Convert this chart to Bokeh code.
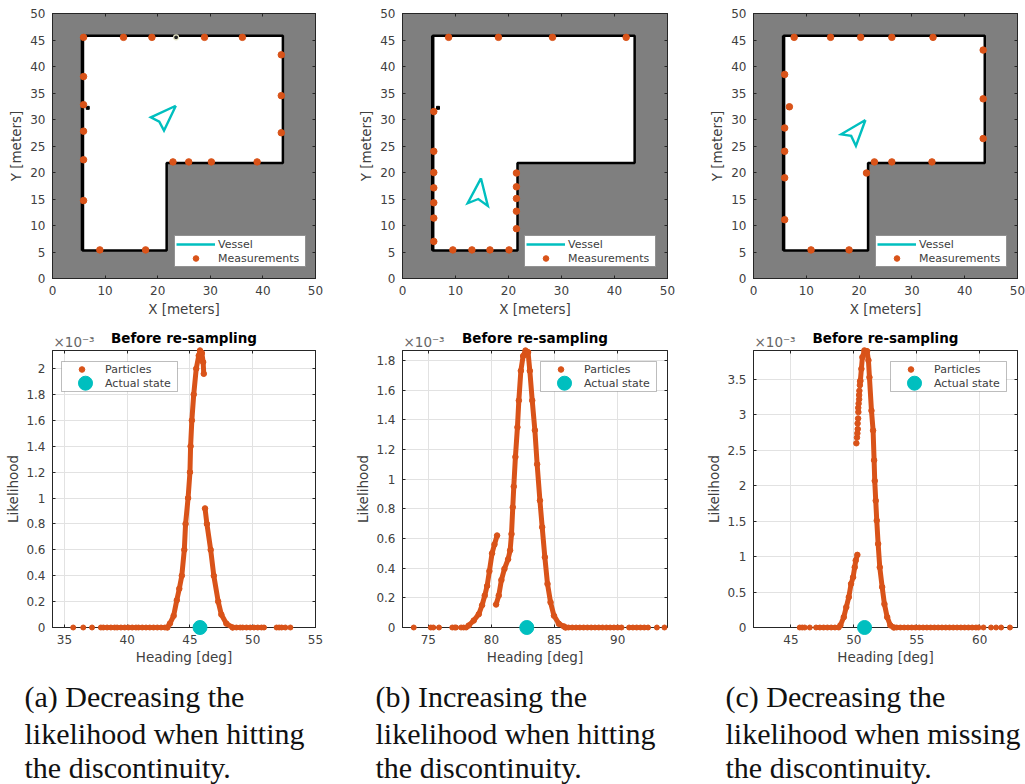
from bokeh.plotting import figure
from bokeh.layouts import column, row
from bokeh.models import LinearAxis, FixedTicker, Legend, LegendItem, Label, BoxAnnotation
from bokeh.embed import file_html
from bokeh.resources import INLINE

# ---------- data: map ----------
room_x = [5.7, 43.8, 43.8, 21.7, 21.7, 5.7, 5.7]
room_y = [45.8, 45.8, 21.8, 21.8, 5.3, 5.3, 45.8]
map_xticks = [0, 10, 20, 30, 40, 50]
map_yticks = [0, 5, 10, 15, 20, 25, 30, 35, 40, 45, 50]

meas_a_x = [5.9, 13.5, 18.9, 28.9, 36.1, 43.5, 43.5, 43.5, 5.9, 5.9, 5.9, 5.9, 5.9, 22.9, 25.9, 30.2, 38.9, 9.0, 17.7]
meas_a_y = [45.5, 45.5, 45.5, 45.5, 45.5, 42.2, 34.5, 27.5, 38.1, 32.8, 27.8, 22.4, 14.7, 22.0, 22.0, 22.0, 22.0, 5.4, 5.4]
meas_b_x = [8.7, 18.1, 28.3, 42.2, 5.9, 5.9, 5.9, 5.9, 5.9, 5.9, 5.9, 21.5, 21.5, 21.5, 21.5, 21.5, 9.5, 13.1, 16.5, 20.1]
meas_b_y = [45.5, 45.5, 45.5, 45.5, 31.5, 24.0, 20.0, 17.1, 14.3, 11.4, 7.0, 19.9, 17.3, 15.1, 12.7, 9.4, 5.4, 5.4, 5.4, 5.4]
meas_c_x = [7.7, 14.6, 20.3, 26.2, 34.0, 43.5, 43.5, 43.5, 5.9, 5.9, 5.9, 5.9, 5.9, 6.8, 22.9, 26.2, 33.8, 21.4, 10.9, 18.1]
meas_c_y = [45.5, 45.5, 45.5, 45.5, 45.5, 43.1, 33.9, 26.4, 38.5, 28.4, 24.0, 19.0, 11.1, 32.4, 22.0, 22.0, 22.0, 19.9, 5.4, 5.4]

vessel_a_x = [23.45, 18.7, 20.3, 21.2, 23.45]
vessel_a_y = [32.6, 30.4, 29.6, 27.9, 32.6]
vessel_b_x = [14.8, 12.3, 14.3, 16.1, 14.8]
vessel_b_y = [18.9, 14.2, 15.0, 13.7, 18.9]
vessel_c_x = [21.2, 16.6, 18.5, 19.4, 21.2]
vessel_c_y = [29.9, 27.2, 26.9, 25.0, 29.9]

hit_a_x, hit_a_y = [23.5], [45.5]
corner_x, corner_y = [6.7], [32.2]

# ---------- data: likelihood (units of 1e-3) ----------
a_main_x = [43.2, 43.4, 43.7, 43.95, 44.15, 44.35, 44.55, 44.65, 44.85, 45.0, 45.05, 45.15, 45.3, 45.5, 45.7, 45.8, 45.95, 46.05, 46.1]
a_main_y = [0.0, 0.03, 0.09, 0.21, 0.3, 0.4, 0.6, 0.8, 1.0, 1.2, 1.4, 1.6, 1.8, 2.0, 2.1, 2.14, 2.12, 2.05, 1.96]
a_right_x = [46.2, 46.35, 46.65, 46.9, 47.25, 47.5, 47.9, 48.4]
a_right_y = [0.92, 0.8, 0.6, 0.4, 0.2, 0.1, 0.03, 0.0]
a_tail_x = [35.7, 36.5, 37.2, 37.9, 38.1, 38.4, 38.7, 39.0, 39.2, 39.5, 39.8, 40.1, 40.4, 40.7, 40.9, 41.2, 41.5, 41.8, 42.1, 42.4, 42.7, 43.0,
            48.7, 49.0, 49.2, 49.5, 49.8, 50.1, 50.4, 50.7, 50.9, 51.9, 52.1, 52.3, 52.6, 53.0]
a_zero_x = [37.9, 43.2, 48.4, 51.0, 51.9, 52.6]
a_state = 45.8
a_xticks = [35, 40, 45, 50, 55]
a_yticks = [0, 0.2, 0.4, 0.6, 0.8, 1, 1.2, 1.4, 1.6, 1.8, 2]
a_ylabels = ["0", "0.2", "0.4", "0.6", "0.8", "1", "1.2", "1.4", "1.6", "1.8", "2"]

b_left_x = [78.2, 78.6, 79.0, 79.26, 79.47, 79.66, 79.84, 80.05, 80.24, 80.45]
b_left_y = [0.013, 0.047, 0.09, 0.15, 0.215, 0.28, 0.38, 0.5, 0.56, 0.62]
b_main_x = [80.37, 80.58, 80.79, 81.03, 81.32, 81.48, 81.59, 81.69, 81.77, 81.9, 82.06, 82.17, 82.33, 82.51, 82.7, 82.9, 83.04, 83.23, 83.44, 83.62, 83.84, 84.02, 84.23, 84.44, 84.68, 84.95, 85.34, 85.74, 85.87]
b_main_y = [0.155, 0.215, 0.32, 0.395, 0.46, 0.52, 0.63, 0.81, 0.95, 1.15, 1.35, 1.53, 1.73, 1.83, 1.867, 1.856, 1.73, 1.53, 1.33, 1.10, 0.856, 0.676, 0.474, 0.294, 0.17, 0.08, 0.025, 0.007, 0.0]
b_tail_x = [73.85, 75.2, 75.4, 75.85, 76.9, 77.1, 77.2, 77.6, 77.8, 78.0,
            86.1, 86.4, 86.7, 87.0, 87.3, 87.6, 87.9, 88.2, 88.5, 88.8, 89.1, 89.4, 89.7, 90.0, 90.3, 90.9, 91.2, 91.5, 91.8, 92.1, 92.4, 93.1, 93.7]
b_zero_x = [85.9, 88.8, 89.0, 90.3, 90.9, 92.5]
b_state = 82.8
b_xticks = [75, 80, 85, 90]
b_yticks = [0, 0.2, 0.4, 0.6, 0.8, 1, 1.2, 1.4, 1.6, 1.8]
b_ylabels = ["0", "0.2", "0.4", "0.6", "0.8", "1", "1.2", "1.4", "1.6", "1.8"]

c_low_x = [48.93, 49.2, 49.4, 49.6, 49.78, 49.94, 50.07, 50.15, 50.28]
c_low_y = [0.03, 0.146, 0.287, 0.428, 0.616, 0.71, 0.85, 0.945, 1.025]
c_dots_x = [50.2, 50.25, 50.28, 50.31, 50.3, 50.34, 50.36, 50.35, 50.38, 50.42, 50.42, 50.44, 50.48, 50.5]
c_dots_y = [2.6, 2.68, 2.74, 2.8, 2.88, 2.95, 3.04, 3.1, 3.16, 3.22, 3.28, 3.34, 3.42, 3.47]
c_main_x = [50.52, 50.6, 50.68, 50.84, 51.05, 51.16, 51.24, 51.4, 51.53, 51.61, 51.66, 51.74, 51.82, 51.93, 52.06, 52.25, 52.43, 52.65, 52.9, 53.18]
c_main_y = [3.485, 3.65, 3.815, 3.91, 3.9, 3.77, 3.53, 3.06, 2.78, 2.36, 2.07, 1.79, 1.51, 1.18, 0.85, 0.57, 0.33, 0.146, 0.03, 0.0]
c_tail_x = [45.7, 45.9, 46.1, 46.5, 47.0, 47.3, 47.6, 47.9, 48.2, 48.5, 48.8,
            53.4, 53.7, 54.0, 54.3, 54.6, 54.9, 55.2, 55.5, 55.8, 56.1, 56.4, 56.7, 57.0, 57.3, 57.6, 57.9, 58.2, 58.5, 58.8, 59.1, 59.4, 59.7, 59.9, 60.3, 60.9, 61.3, 61.7, 62.4]
c_zero_x = [47.0, 48.9, 53.2, 59.9]
c_state = 50.85
c_xticks = [45, 50, 55, 60]
c_yticks = [0, 0.5, 1, 1.5, 2, 2.5, 3, 3.5]
c_ylabels = ["0", "0.5", "1", "1.5", "2", "2.5", "3", "3.5"]

# ---------- text ----------
plot_title = "Before re-sampling"
captions = [["(a) Decreasing the", "likelihood when hitting", "the discontinuity."],
            ["(b) Increasing the", "likelihood when hitting", "the discontinuity."],
            ["(c) Decreasing the", "likelihood when missing", "the discontinuity."]]

# ---------- style ----------
ORANGE, CYAN, GREY, INK, FONT = "#d95319", "#00bfbf", "#7f7f7f", "#404040", "DejaVu Sans"
COLS = [(345, 52, 263), (340, 57, 265), (340, 68, 264)]
TOP_H, TOP_TOP, TOP_FRAME = 320, 13, 265
BOT_H, BOT_TOP, BOT_FRAME = 352, 32, 277


def style(p, xticks, yticks, ylabels=None, label_standoff=3):
    for ax in (p.xaxis[0], p.yaxis[0]):
        ax.major_label_text_font = FONT
        ax.major_label_text_font_size = "12px"
        ax.major_label_text_color = INK
        ax.axis_label_text_font = FONT
        ax.axis_label_text_font_size = "13.5px"
        ax.axis_label_text_font_style = "normal"
        ax.axis_label_text_color = INK
        ax.axis_label_standoff = label_standoff
        ax.major_label_standoff = 7
    p.xaxis[0].ticker = FixedTicker(ticks=xticks)
    p.yaxis[0].ticker = FixedTicker(ticks=yticks)
    p.yaxis[0].major_label_orientation = "horizontal"
    if ylabels:
        p.yaxis[0].major_label_overrides = {float(t) if t != int(t) else int(t): l for t, l in zip(yticks, ylabels)}
    blank_x = {t: "" for t in xticks}
    blank_y = {t: "" for t in yticks}
    p.add_layout(LinearAxis(ticker=FixedTicker(ticks=xticks), major_label_overrides=blank_x,
                            major_label_text_font_size="1px", major_label_standoff=0), "above")
    p.add_layout(LinearAxis(ticker=FixedTicker(ticks=yticks), major_label_overrides=blank_y,
                            major_label_text_font_size="1px", major_label_standoff=0), "right")
    for ax in p.axis:
        ax.major_tick_in, ax.major_tick_out = 3, 0
        ax.minor_tick_in, ax.minor_tick_out = 0, 0
        ax.axis_line_color = "#262626"
        ax.major_tick_line_color = "#262626"
    p.outline_line_color = "#262626"


def base(col, h, top, frame, xr, yr, xl, yl):
    w, left, fw = COLS[col]
    return figure(width=w, height=h, x_range=xr, y_range=yr, x_axis_label=xl, y_axis_label=yl,
                  min_border_left=left, min_border_right=w - left - fw,
                  min_border_top=top, min_border_bottom=h - top - frame,
                  output_backend="svg", toolbar_location=None, background_fill_color="white",
                  border_fill_color="white")


def map_plot(col, mx, my, vx, vy, hits=None):
    p = base(col, TOP_H, TOP_TOP, TOP_FRAME, (0, 50), (0, 50), "X [meters]", "Y [meters]")
    p.background_fill_color = GREY
    p.grid.visible = False
    style(p, map_xticks, map_yticks)
    p.patch(room_x, room_y, fill_color="white", line_color="black", line_width=2.5)
    p.line(room_x[-2:], room_y[-2:], line_color="black", line_width=3.5)
    p.scatter(corner_x, corner_y, marker="square", size=3, color="black")
    vessel = p.line(vx, vy, line_color=CYAN, line_width=2.4, line_join="miter")
    meas = p.scatter(mx, my, size=6.5, color=ORANGE)
    if hits:
        p.scatter(hits[0], hits[1], size=5, fill_color="#222222", line_color="#e6e6c8", line_width=1.2)
    lg = Legend(items=[LegendItem(label="Vessel", renderers=[vessel]),
                       LegendItem(label="Measurements", renderers=[meas])],
                location=(122, 11), glyph_width=39, glyph_height=14, spacing=0, padding=1, margin=0,
                label_standoff=3, label_text_font=FONT, label_text_font_size="11px", label_text_color=INK,
                label_height=14, label_width=86, border_line_color="#262626", border_line_width=1, background_fill_alpha=1)
    p.add_layout(lg)
    return p


def like_plot(col, xr, yr, xt, yt, yl, segs, dots, tail, zero, state, leg_x):
    p = base(col, BOT_H, BOT_TOP, BOT_FRAME, xr, yr, "Heading [deg]", "Likelihood")
    p.margin = (-2, 0, 0, 0)
    p.grid.grid_line_color = "#e2e2e2"
    p.grid.grid_line_width = 1
    style(p, xt, yt, yl, label_standoff=2)
    fw, fh = COLS[col][2], BOT_FRAME
    px_x = lambda v: xr[0] + v / fw * (xr[1] - xr[0])
    px_y = lambda v: yr[1] - v / fh * (yr[1] - yr[0])
    # white panel behind a see-through legend, so its larger key can show
    p.add_layout(BoxAnnotation(left=px_x(leg_x), right=px_x(leg_x + 116), top=px_y(11), bottom=px_y(41),
                               fill_color="white", fill_alpha=1, line_color="#262626", line_width=1, level="underlay"))
    last = None
    for sx, sy in segs:
        p.line(sx, sy, line_color=ORANGE, line_width=5, line_join="round", line_cap="round", level="overlay")
        last = p.scatter(sx, sy, size=5.5, color=ORANGE, level="overlay")
    for i in range(0, len(zero), 2):
        p.line(zero[i:i + 2], [0, 0], line_color=ORANGE, line_width=4.5, level="overlay")
    p.scatter(tail, [0] * len(tail), size=5, color=ORANGE, level="overlay")
    if dots:
        p.scatter(dots[0], dots[1], size=5.5, color=ORANGE, level="overlay")
    st = p.scatter([state], [0], size=14, color=CYAN, level="overlay")
    lg = Legend(items=[LegendItem(label="Particles", renderers=[last]),
                       LegendItem(label="Actual state", renderers=[st])],
                location=(leg_x, 237), glyph_width=41, glyph_height=14, spacing=0, padding=1, margin=0,
                label_standoff=3, label_text_font=FONT, label_text_font_size="11px", label_text_color=INK,
                label_height=14, label_width=69, border_line_color=None, background_fill_alpha=0)
    p.add_layout(lg)
    p.scatter([px_x(leg_x + 24)], [px_y(32.7)], size=14, color=CYAN, level="overlay")
    p.add_layout(Label(x=1, y=1, x_units="screen", y_units="screen", text="×10⁻³", text_line_height=0.9,
                       text_font=FONT, text_font_size="13.5px", text_color="#666666"), "above")
    p.add_layout(Label(x=fw / 2, y=-11, x_units="screen", y_units="screen", text=plot_title, text_align="center",
                       text_line_height=0.9, text_font=FONT, text_font_size="13.5px", text_font_style="bold",
                       text_color="black"), "above")
    return p


p1 = map_plot(0, meas_a_x, meas_a_y, vessel_a_x, vessel_a_y, (hit_a_x, hit_a_y))
p2 = map_plot(1, meas_b_x, meas_b_y, vessel_b_x, vessel_b_y)
p3 = map_plot(2, meas_c_x, meas_c_y, vessel_c_x, vessel_c_y)
p4 = like_plot(0, (34.05, 55), (0, 2.14), a_xticks, a_yticks, a_ylabels,
               [(a_main_x, a_main_y), (a_right_x, a_right_y)], None, a_tail_x, a_zero_x, a_state, 9)
p5 = like_plot(1, (72.96, 93.94), (0, 1.867), b_xticks, b_yticks, b_ylabels,
               [(b_left_x, b_left_y), (b_main_x, b_main_y)], None, b_tail_x, b_zero_x, b_state, 138)
p6 = like_plot(2, (42.03, 63.0), (0, 3.909), c_xticks, c_yticks, c_ylabels,
               [(c_low_x, c_low_y), (c_main_x, c_main_y)], (c_dots_x, c_dots_y), c_tail_x, c_zero_x, c_state, 137)

cap = figure(width=1025, height=114, x_range=(0, 1025), y_range=(114, 0), output_backend="svg",
             toolbar_location=None, min_border=0, outline_line_color=None)
cap.axis.visible = False
cap.grid.visible = False
for x, lines in zip([24, 375, 725], captions):
    for y, t in zip([26, 63, 97], lines):
        cap.add_layout(Label(x=x, y=114 - y, x_units="screen", y_units="screen", text=t, text_baseline="alphabetic",
                             text_font="Liberation Serif", text_font_size="30px", text_color="#111111"))

root = column(row(p1, p2, p3, spacing=0), row(p4, p5, p6, spacing=0), cap, spacing=0)
open("out.html", "w").write(file_html(root, INLINE))
